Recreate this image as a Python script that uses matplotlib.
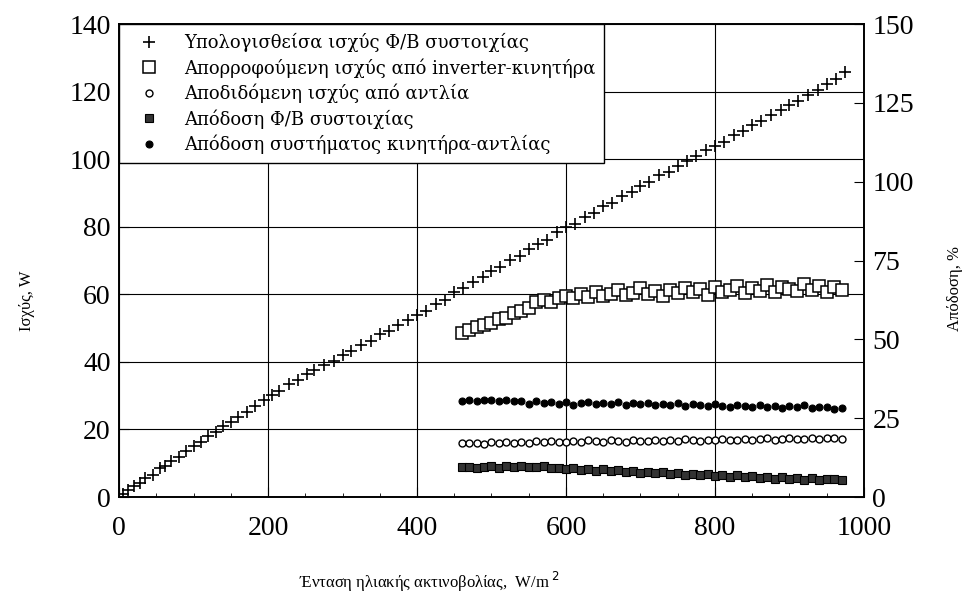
import matplotlib
matplotlib.use("Agg")
import matplotlib.pyplot as plt
from matplotlib.ticker import MultipleLocator

plt.rcParams['font.family'] = ['Liberation Serif', 'DejaVu Serif']

# calculated PV array power, W
irr_pv = [5, 12, 20, 28, 35, 45, 55, 62, 70, 80, 90, 100, 110, 120, 130, 140, 150, 160,
          172, 182, 195, 205, 215, 228, 240, 252, 262, 275, 288, 300, 312, 325, 338, 350,
          362, 375, 388, 400, 412, 425, 438, 450, 462, 475, 488, 500, 512, 525, 538, 550,
          562, 575, 588, 600, 612, 625, 638, 650, 662, 675, 688, 700, 712, 725, 738, 750,
          762, 775, 788, 800, 812, 825, 838, 850, 862, 875, 888, 900, 912, 925, 938, 950,
          962, 975]
pv_power = [0.8, 2.0, 3.2, 4.0, 5.5, 6.6, 8.5, 9.2, 10.8, 11.9, 13.6, 15.0, 16.2, 18.1,
            19.3, 21.0, 22.1, 23.8, 25.2, 27.0, 28.6, 30.3, 31.4, 33.4, 34.6, 36.4, 37.5,
            39.1, 40.2, 42.0, 43.2, 45.1, 46.3, 48.2, 49.1, 51.0, 52.3, 54.0, 55.0, 57.1,
            58.4, 60.6, 61.8, 63.7, 65.2, 67.0, 68.0, 70.1, 71.2, 73.4, 74.8, 76.2, 78.3,
            80.0, 80.9, 82.8, 84.1, 86.2, 87.0, 89.1, 90.2, 92.0, 93.1, 95.2, 96.3, 98.0,
            99.6, 100.8, 102.7, 104.0, 105.0, 107.1, 108.3, 110.2, 111.2, 113.1, 114.6,
            116.0, 117.3, 118.9, 120.4, 122.1, 123.8, 125.8]

# pump tests
irr_pump = [460, 470, 480, 490, 500, 510, 520, 530, 540, 550, 560, 570, 580, 590, 600,
            610, 620, 630, 640, 650, 660, 670, 680, 690, 700, 710, 720, 730, 740, 750,
            760, 770, 780, 790, 800, 810, 820, 830, 840, 850, 860, 870, 880, 890, 900,
            910, 920, 930, 940, 950, 960, 970]
motor_in = [48.5, 49.3, 50.2, 50.8, 51.5, 52.6, 53.1, 54.4, 55.2, 56.0, 57.8, 58.4, 57.6,
            59.0, 59.5, 58.8, 60.2, 59.1, 60.6, 59.4, 60.1, 61.3, 59.8, 60.5, 61.8, 60.0,
            60.9, 59.6, 61.2, 60.4, 62.0, 60.7, 61.5, 59.9, 62.3, 60.8, 61.4, 62.6, 60.3,
            61.9, 61.1, 62.8, 60.6, 62.2, 61.6, 60.9, 63.0, 61.3, 62.4, 60.8, 62.1, 61.4]
pump_out = [15.9, 16.1, 16.0, 15.8, 16.2, 16.0, 16.3, 15.9, 16.4, 16.1, 16.5, 16.2, 16.6,
            16.3, 16.4, 16.7, 16.2, 16.8, 16.5, 16.4, 16.9, 16.6, 16.3, 16.8, 16.7, 16.5,
            17.0, 16.6, 16.9, 16.7, 17.1, 16.8, 16.6, 17.0, 16.9, 17.2, 16.8, 17.0, 17.3,
            16.9, 17.1, 17.4, 17.0, 17.2, 17.5, 17.1, 17.3, 17.6, 17.2, 17.4, 17.5, 17.3]
pv_eff = [9.4, 9.6, 9.3, 9.5, 9.7, 9.2, 9.8, 9.5, 9.9, 9.6, 9.4, 9.7, 9.1, 9.3, 8.9, 9.2,
          8.7, 8.9, 8.4, 8.8, 8.2, 8.5, 7.9, 8.3, 7.7, 8.0, 7.5, 7.8, 7.3, 7.6, 7.1, 7.4,
          6.9, 7.2, 6.7, 7.0, 6.5, 6.9, 6.2, 6.6, 6.0, 6.5, 5.8, 6.3, 5.7, 6.1, 5.5, 6.0,
          5.4, 5.8, 5.6, 5.5]
sys_eff = [30.6, 30.8, 30.5, 30.7, 30.9, 30.6, 30.8, 30.4, 30.5, 29.6, 30.3, 29.8, 30.1,
           29.5, 30.0, 29.3, 29.9, 30.2, 29.4, 29.8, 29.6, 30.0, 29.2, 29.7, 29.5, 29.9,
           29.1, 29.6, 29.3, 29.8, 29.0, 29.4, 29.2, 28.8, 29.5, 29.0, 28.7, 29.3, 28.9,
           28.5, 29.1, 28.6, 28.9, 28.3, 28.8, 28.5, 29.2, 28.1, 28.6, 28.4, 27.9, 28.2]

labels = ["Υπολογισθείσα ισχύς Φ/Β συστοιχίας",
          "Απορροφούμενη ισχύς από inverter-κινητήρα",
          "Αποδιδόμενη ισχύς από αντλία",
          "Απόδοση Φ/Β συστοιχίας",
          "Απόδοση συστήματος κινητήρα-αντλίας"]

fig = plt.figure(figsize=(9.7, 6.02), dpi=100)
ax = fig.add_axes([0.1227, 0.1744, 0.768, 0.7857])
ax2 = ax.twinx()

h1, = ax.plot(irr_pv, pv_power, '+', color='black', ms=8, mew=1.2, label=labels[0])
h2, = ax.plot(irr_pump, motor_in, 's', mfc='white', mec='black', ms=8, mew=1.1, label=labels[1])
h3, = ax.plot(irr_pump, pump_out, 'o', mfc='white', mec='black', ms=5, mew=1.0, label=labels[2])
h4, = ax2.plot(irr_pump, pv_eff, 's', color='black', mfc='#333333', ms=6, mew=0.8, label=labels[3])
h5, = ax2.plot(irr_pump, sys_eff, 'o', color='black', ms=5, mew=0.8, label=labels[4])

ax.set_xlim(0, 1000)
ax.set_ylim(0, 140)
ax2.set_ylim(0, 150)
ax.xaxis.set_major_locator(MultipleLocator(200))
ax.xaxis.set_minor_locator(MultipleLocator(50))
ax.yaxis.set_major_locator(MultipleLocator(20))
ax2.yaxis.set_major_locator(MultipleLocator(25))

ax.grid(True, which='major', color='black', lw=0.8)
ax.set_axisbelow(True)
ax.tick_params(axis='both', which='both', direction='in', labelsize=20)
ax.tick_params(axis='x', which='major', length=7, pad=14)
ax.tick_params(axis='y', which='major', length=7, pad=6)
ax.tick_params(axis='x', which='minor', length=3)
ax2.tick_params(axis='y', direction='in', length=7, labelsize=20, pad=6)
for a in (ax, ax2):
    for s in a.spines.values():
        s.set_linewidth(1.2)

leg = ax.legend(handles=[h1, h2, h3, h4, h5], loc='upper left', borderaxespad=0,
                prop={'family': 'DejaVu Serif', 'size': 13}, numpoints=1,
                fancybox=False, framealpha=1, edgecolor='black', handlelength=2.3,
                labelspacing=0.33, borderpad=0.5)
leg.get_frame().set_linewidth(1.0)

fig.text(0.028, 0.5, "Ισχύς, W", rotation=90, ha='center', va='center', fontsize=12)
fig.text(0.985, 0.52, "Απόδοση, %", rotation=90, ha='center', va='center', fontsize=12)
fig.text(0.443, 0.033, "Ένταση ηλιακής ακτινοβολίας,  W/m$^{\\ 2}$", ha='center', va='center',
         fontsize=12)

fig.savefig("out.png", dpi=100)
